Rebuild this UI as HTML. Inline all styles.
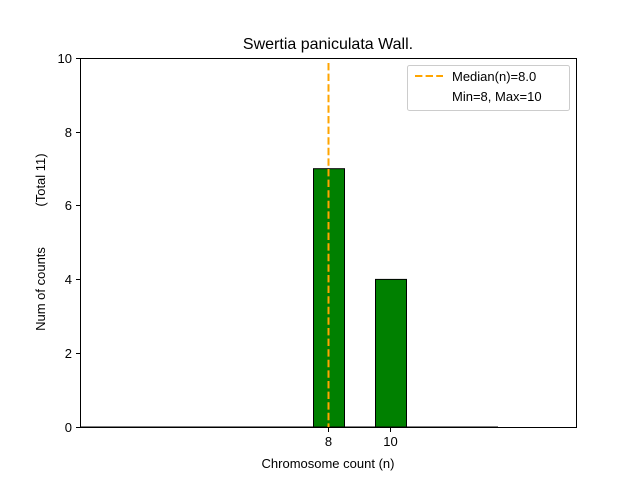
<!DOCTYPE html>
<html><head><meta charset="utf-8"><style>
body{margin:0;background:#fff}
svg{display:block;font-family:"Liberation Sans","DejaVu Sans",sans-serif}
</style></head><body>
<svg width="640" height="480" xmlns="http://www.w3.org/2000/svg">
<rect width="640" height="480" fill="#fff"/>
<text x="328" y="49" font-size="16" text-anchor="middle">Swertia paniculata Wall.</text>
<line x1="80" y1="427" x2="498" y2="427" stroke="#000" stroke-width="1"/>
<rect x="313.5" y="168.7" width="31" height="258.3" fill="#008000" stroke="#000" stroke-width="1"/>
<rect x="375.5" y="279.4" width="31" height="147.6" fill="#008000" stroke="#000" stroke-width="1"/>
<line x1="328.5" y1="63" x2="328.5" y2="427" stroke="#ffa500" stroke-width="2" stroke-dasharray="7.4,3.2"/>
<rect x="80.5" y="58.5" width="496" height="369" fill="none" stroke="#000" stroke-width="1"/>
<g stroke="#000" stroke-width="1">
<line x1="80" y1="427.5" x2="76" y2="427.5"/><line x1="80" y1="353.5" x2="76" y2="353.5"/>
<line x1="80" y1="279.5" x2="76" y2="279.5"/><line x1="80" y1="205.5" x2="76" y2="205.5"/>
<line x1="80" y1="132.5" x2="76" y2="132.5"/><line x1="80" y1="58.5" x2="76" y2="58.5"/>
<line x1="328.5" y1="428" x2="328.5" y2="432"/><line x1="390.5" y1="428" x2="390.5" y2="432"/>
</g>
<g font-size="13" text-anchor="end">
<text x="72" y="432">0</text><text x="72" y="358">2</text><text x="72" y="284">4</text>
<text x="72" y="210">6</text><text x="72" y="137">8</text><text x="72" y="63">10</text>
</g>
<g font-size="13" text-anchor="middle">
<text x="328.5" y="446">8</text><text x="390.5" y="446">10</text>
<text x="328" y="468">Chromosome count (n)</text>
</g>
<text transform="translate(45,289) rotate(-90)" font-size="13" text-anchor="middle">Num of counts</text>
<text transform="translate(45,180) rotate(-90)" font-size="13" text-anchor="middle">(Total 11)</text>
<rect x="407.5" y="65.5" width="162" height="45" rx="2" fill="#fff" stroke="#ccc" stroke-width="1"/>
<line x1="415" y1="76" x2="443" y2="76" stroke="#ffa500" stroke-width="2" stroke-dasharray="7.4,3.2"/>
<text x="452" y="81" font-size="13">Median(n)=8.0</text>
<text x="452" y="101" font-size="13">Min=8, Max=10</text>
</svg>
</body></html>
